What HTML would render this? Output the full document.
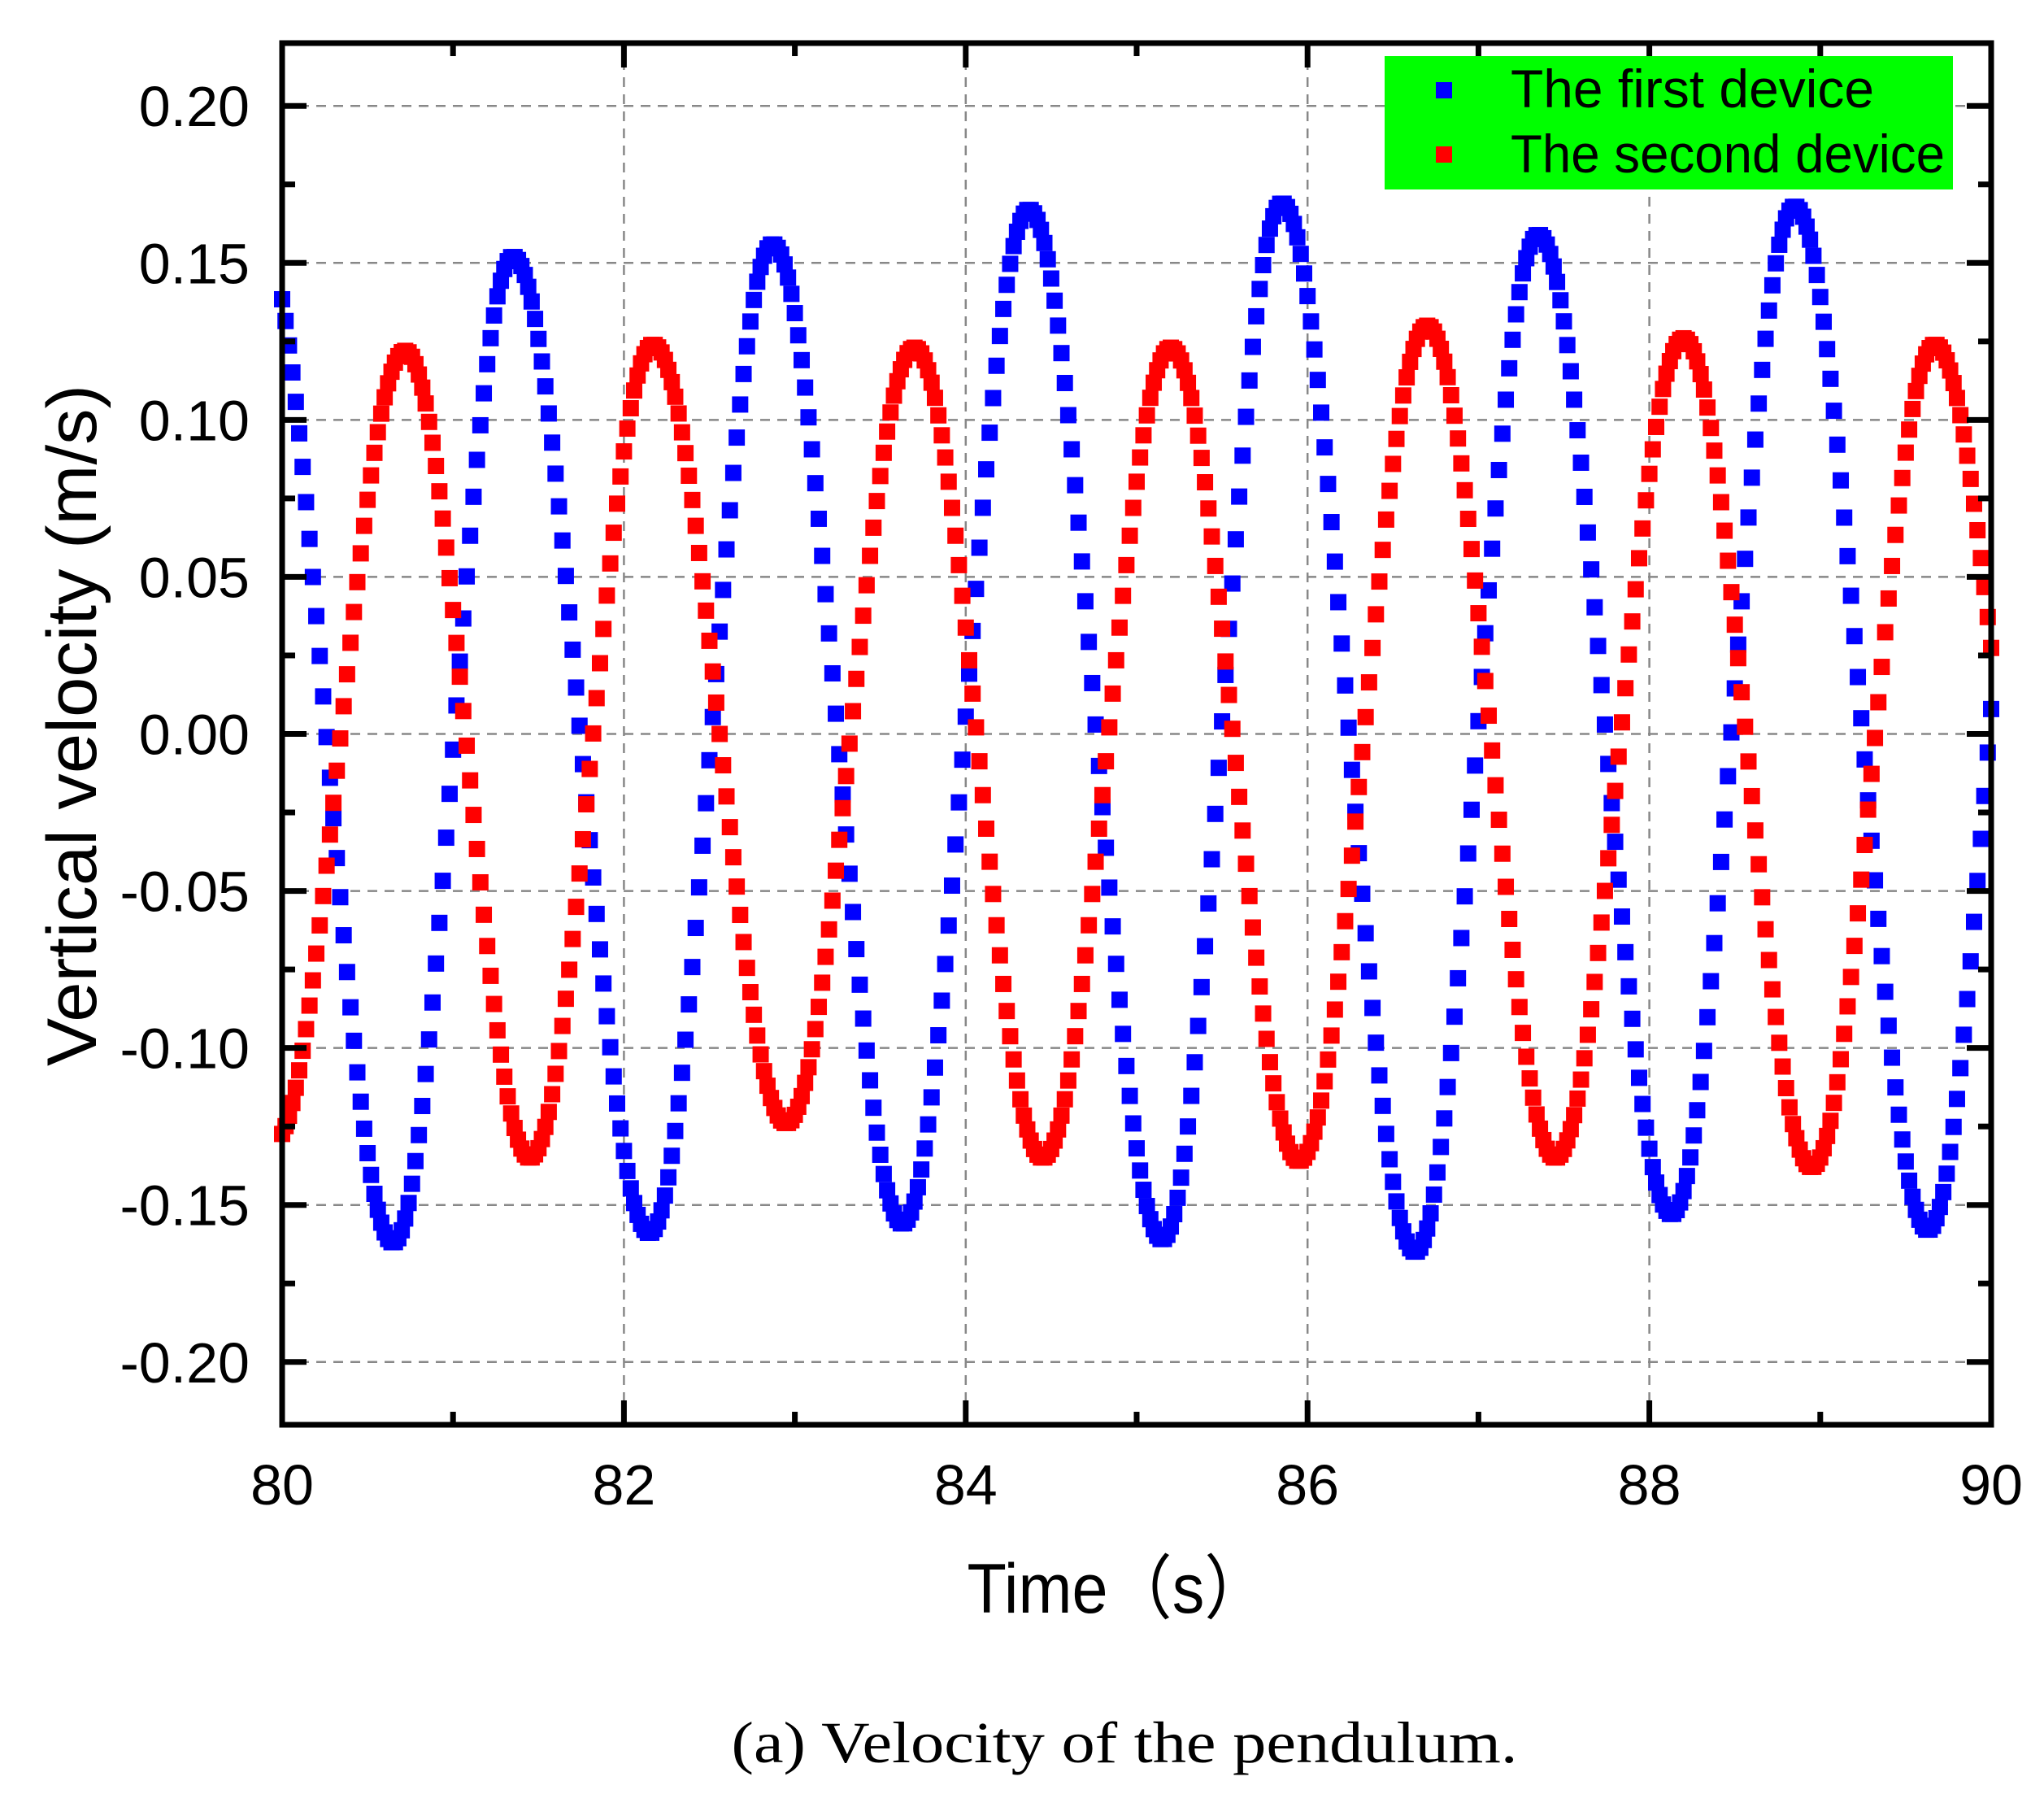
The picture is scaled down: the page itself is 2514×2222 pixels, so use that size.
<!DOCTYPE html>
<html><head><meta charset="utf-8"><style>
html,body{margin:0;padding:0;background:#fff}
svg{display:block}
text{font-family:"Liberation Sans",sans-serif}
</style></head><body>
<svg id="chart" xmlns="http://www.w3.org/2000/svg" width="2514" height="2222" viewBox="0 0 2514 2222">
<rect width="2514" height="2222" fill="#fff"/>
<g id="grid"></g>
<g id="series"></g>
<g id="axes"></g>
<g>
<rect x="1703" y="69" width="699" height="164" fill="#00ff00"/>
<rect x="1766" y="101" width="20" height="20" fill="#0000ff"/>
<text x="1858" y="132" font-size="66" textLength="447" lengthAdjust="spacingAndGlyphs">The first device</text>
<rect x="1766" y="180" width="20" height="20" fill="#ff0000"/>
<text x="1858" y="212" font-size="66" textLength="534" lengthAdjust="spacingAndGlyphs">The second device</text>
</g>
<text x="1375" y="1983" font-size="86" text-anchor="middle" textLength="371" lengthAdjust="spacingAndGlyphs" style="font-family:'Liberation Sans','Noto Sans CJK SC',sans-serif">Time（s）</text>
<text transform="translate(118,892) rotate(-90)" font-size="86" text-anchor="middle" textLength="838" lengthAdjust="spacingAndGlyphs">Vertical velocity (m/s)</text>
<text x="1383" y="2167" font-size="72" text-anchor="middle" textLength="967" lengthAdjust="spacingAndGlyphs" style="font-family:'Liberation Serif',serif">(a) Velocity of the pendulum.</text>
</svg>
<script>
// Axis ranges and ticks
const xTicks = [80, 82, 84, 86, 88, 90];
const xTickLabels = ["80", "82", "84", "86", "88", "90"];
const yTicks = [-0.20, -0.15, -0.10, -0.05, 0.00, 0.05, 0.10, 0.15, 0.20];
const yTickLabels = ["-0.20", "-0.15", "-0.10", "-0.05", "0.00", "0.05", "0.10", "0.15", "0.20"];
const blueTimes = [79.87, 80.65, 81.35, 82.15, 82.87, 83.63, 84.37, 85.15, 85.85, 86.63, 87.35, 88.13, 88.85, 89.63, 90.35];
const blueValues = [0.160, -0.162, 0.152, -0.159, 0.156, -0.156, 0.167, -0.161, 0.169, -0.165, 0.159, -0.153, 0.168, -0.158, 0.160];
const redTimes = [79.95, 80.72, 81.45, 82.17, 82.95, 83.70, 84.45, 85.20, 85.95, 86.70, 87.45, 88.20, 88.95, 89.67, 90.45];
const redValues = [-0.130, 0.122, -0.135, 0.124, -0.124, 0.123, -0.135, 0.123, -0.136, 0.130, -0.135, 0.126, -0.138, 0.124, -0.130];
const sampleStep = 0.02;

const X0 = 347, X1 = 2449, Y0 = 1752, Y1 = 53;
const xMin = 80, xMax = 90, yMin = -0.22, yMax = 0.22;
const NS = "http://www.w3.org/2000/svg";
function sx(v){ return X0 + (v - xMin) / (xMax - xMin) * (X1 - X0); }
function sy(v){ return Y0 - (v - yMin) / (yMax - yMin) * (Y0 - Y1); }
function mk(tag, attrs, parent){
  const e = document.createElementNS(NS, tag);
  for (const k in attrs) e.setAttribute(k, attrs[k]);
  parent.appendChild(e);
  return e;
}
const grid = document.getElementById('grid');
const axes = document.getElementById('axes');
const series = document.getElementById('series');

xTicks.forEach((t, i) => {
  if (i > 0 && i < xTicks.length - 1) {
    const g = mk('line', {x1: sx(t), x2: sx(t), y1: Y1, y2: Y0, stroke: '#888', 'stroke-width': 2.5, 'stroke-dasharray': '12 9'}, grid);
    
    
  }
});
yTicks.forEach(t => {
  const g = mk('line', {x1: X0, x2: X1, y1: sy(t), y2: sy(t), stroke: '#888', 'stroke-width': 2.5, 'stroke-dasharray': '12 9'}, grid);
  
  
});

function sampleSeries(times, values){
  const pts = [];
  for (let t = xMin; t <= xMax + 1e-9; t += sampleStep) {
    let k = 0;
    while (k < times.length - 2 && times[k + 1] < t) k++;
    const f = Math.min(1, Math.max(0, (t - times[k]) / (times[k + 1] - times[k])));
    const a = values[k], b = values[k + 1];
    const v = (a + b) / 2 + (a - b) / 2 * Math.cos(Math.PI * f);
    pts.push([t, v]);
  }
  return pts;
}
function drawSeries(times, values, color, name){
  const g = mk('g', {}, series);
  
  
  const s = 20;
  sampleSeries(times, values).forEach(p => {
    const r = mk('rect', {x: sx(p[0]) - s / 2, y: sy(p[1]) - s / 2, width: s, height: s, fill: color}, g);
    
    
  });
}
drawSeries(blueTimes, blueValues, '#0000ff', 'first-device-series');
drawSeries(redTimes, redValues, '#ff0000', 'second-device-series');

// frame
const frame = mk('rect', {x: X0, y: Y1, width: X1 - X0, height: Y0 - Y1, fill: 'none', stroke: '#000', 'stroke-width': 7}, axes);



// x ticks major and minor
for (let t = xMin; t <= xMax + 1e-9; t += 1) {
  const major = Math.round(t) % 2 === 0;
  const L = major ? 30 : 16;
  [[Y0, Y0 - L], [Y1, Y1 + L]].forEach(p => {
    const l = mk('line', {x1: sx(t), x2: sx(t), y1: p[0], y2: p[1], stroke: '#000', 'stroke-width': 7}, axes);
    
    
  });
}
xTicks.forEach((t, i) => {
  const tx = mk('text', {x: sx(t), y: 1850, 'font-size': 70, 'text-anchor': 'middle'}, axes);
  tx.textContent = xTickLabels[i];
  
  
});
// y ticks major and minor
for (let k = -8; k <= 8; k++) {
  const v = k * 0.025;
  const major = k % 2 === 0;
  const L = major ? 30 : 16;
  [[X0, X0 + L], [X1, X1 - L]].forEach(p => {
    const l = mk('line', {x1: p[0], x2: p[1], y1: sy(v), y2: sy(v), stroke: '#000', 'stroke-width': 7}, axes);
    
    
  });
}
yTicks.forEach((t, i) => {
  const tx = mk('text', {x: 307, y: sy(t) + 25, 'font-size': 70, 'text-anchor': 'end'}, axes);
  tx.textContent = yTickLabels[i];
  
  
});
</script>
</body></html>
